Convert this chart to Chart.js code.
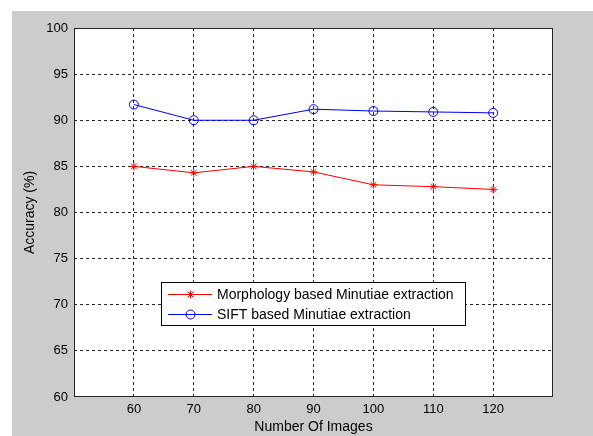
<!DOCTYPE html>
<html>
<head>
<meta charset="utf-8">
<script src="https://cdn.jsdelivr.net/npm/chart.js@4/dist/chart.umd.min.js"></script>
<style>
html,body{margin:0;padding:0;background:#ffffff;}
#c{display:block;}
</style>
</head>
<body>
<canvas id="c" width="593" height="436"></canvas>
<script>
const xValues = [60, 70, 80, 90, 100, 110, 120];
const morphologyAccuracy = [85.0, 84.3, 85.0, 84.4, 83.0, 82.8, 82.5];
const siftAccuracy = [91.7, 90.0, 90.0, 91.2, 91.0, 90.9, 90.8];
const seriesLabels = ['Morphology based Minutiae extraction', 'SIFT based Minutiae extraction'];
const xTitle = 'Number Of Images';
const yTitle = 'Accuracy (%)';

const FONT = '"Liberation Sans", Arial, sans-serif';

const bgPlugin = {
  id: 'figureBg',
  beforeDraw(chart) {
    const ctx = chart.ctx;
    ctx.save();
    ctx.fillStyle = '#cccccc';
    ctx.fillRect(12, 11, chart.width - 12, chart.height - 11);
    const a = chart.chartArea;
    ctx.fillStyle = '#ffffff';
    ctx.fillRect(a.left, a.top, a.right - a.left, a.bottom - a.top);
    ctx.restore();
  },
  afterDraw(chart) {
    const ctx = chart.ctx;
    const a = chart.chartArea;
    ctx.save();
    ctx.strokeStyle = '#262626';
    ctx.lineWidth = 1;
    ctx.setLineDash([]);
    ctx.strokeRect(Math.round(a.left) + 0.5, Math.round(a.top) + 0.5, Math.round(a.right - a.left) - 1, Math.round(a.bottom - a.top) - 1);
    // legend
    const lx = 161, ly = 282, lw = 304, lh = 43;
    ctx.fillStyle = '#ffffff';
    ctx.fillRect(lx, ly, lw, lh);
    ctx.strokeStyle = '#000000';
    ctx.strokeRect(lx + 0.5, ly + 0.5, lw, lh);
    const ds = chart.data.datasets;
    const rows = [294, 314];
    ds.forEach((d, i) => {
      const y = rows[i] + 0.5;
      ctx.strokeStyle = d.borderColor;
      ctx.lineWidth = 1;
      ctx.beginPath();
      ctx.moveTo(168, y);
      ctx.lineTo(212, y);
      ctx.stroke();
      ctx.fillStyle = 'rgba(0,0,0,0)';
      ctx.strokeStyle = d.borderColor;
      Chart.helpers.drawPoint(ctx, {pointStyle: d.pointStyle, radius: d.pointRadius, borderWidth: 1}, 190.5, y);
      ctx.fillStyle = '#000000';
      ctx.font = '14px ' + FONT;
      ctx.textBaseline = 'middle';
      ctx.textAlign = 'left';
      ctx.fillText(d.label, 217, rows[i] + 1);
    });
    ctx.restore();
  }
};

const gridColor = 'rgba(0,0,0,0.85)';

new Chart(document.getElementById('c'), {
  type: 'line',
  data: {
    datasets: [
      {
        label: seriesLabels[0],
        data: xValues.map((x, i) => ({x: x, y: morphologyAccuracy[i]})),
        borderColor: '#ff0000',
        backgroundColor: '#ff0000',
        borderWidth: 1,
        pointStyle: 'star',
        pointRadius: 4,
        pointBorderWidth: 1,
        pointBorderColor: '#ff0000',
        tension: 0
      },
      {
        label: seriesLabels[1],
        data: xValues.map((x, i) => ({x: x, y: siftAccuracy[i]})),
        borderColor: '#0000ff',
        backgroundColor: 'rgba(0,0,0,0)',
        borderWidth: 1,
        pointStyle: 'circle',
        pointRadius: 4.5,
        pointBorderWidth: 1,
        pointBorderColor: '#0000ff',
        tension: 0
      }
    ]
  },
  options: {
    responsive: false,
    animation: false,
    devicePixelRatio: 1,
    layout: {padding: {left: 12, top: 28, right: 40, bottom: 0}},
    plugins: {legend: {display: false}, tooltip: {enabled: false}},
    scales: {
      x: {
        type: 'linear',
        min: 50, max: 130,
        afterBuildTicks(scale) {
          scale.ticks = xValues.map(v => ({value: v}));
        },
        afterFit(scale) { scale.height = 39; },
        grid: {
          color: gridColor,
          lineWidth: 1,
          drawTicks: false,
          tickLength: 0
        },
        border: {display: false, dash: [3, 3], dashOffset: 0},
        ticks: {
          color: '#000000',
          font: {family: FONT, size: 13},
          padding: 5,
          maxRotation: 0,
          autoSkip: false
        },
        title: {
          display: true,
          text: xTitle,
          color: '#000000',
          font: {family: FONT, size: 14},
          padding: {top: 0, bottom: 0}
        }
      },
      y: {
        type: 'linear',
        min: 60, max: 100,
        afterBuildTicks(scale) {
          const t = [];
          for (let v = 60; v <= 100; v += 5) t.push({value: v});
          scale.ticks = t;
        },
        afterFit(scale) { scale.width = 62; },
        grid: {
          color: (c) => (c.tick && (c.tick.value === 60 || c.tick.value === 100)) ? 'rgba(0,0,0,0)' : gridColor,
          lineWidth: 1,
          drawTicks: false,
          tickLength: 0
        },
        border: {display: false, dash: [3, 3], dashOffset: 0},
        ticks: {
          color: '#000000',
          font: {family: FONT, size: 13},
          padding: 6
        },
        title: {
          display: true,
          text: yTitle,
          color: '#000000',
          font: {family: FONT, size: 14},
          padding: {top: 10, bottom: 0}
        }
      }
    }
  },
  plugins: [bgPlugin]
});
</script>
</body>
</html>
